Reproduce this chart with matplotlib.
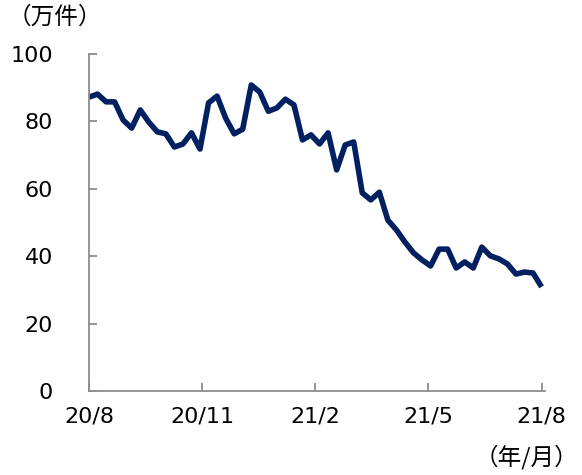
import numpy as np
import matplotlib
matplotlib.use("Agg")
import matplotlib.pyplot as plt

plt.rcParams['font.family'] = ['DejaVu Sans', 'Noto Sans CJK JP']

# weekly values (万件)
values = [87.2, 88.1, 85.8, 85.8, 80.4, 78.0, 83.4, 79.8, 76.9, 76.3,
          72.4, 73.3, 76.6, 71.8, 85.5, 87.5, 81.0, 76.3, 77.7, 90.8,
          88.7, 83.0, 84.0, 86.6, 84.9, 74.5, 76.0, 73.3, 76.6, 65.6,
          73.0, 73.9, 58.8, 56.7, 59.0, 50.7, 47.8, 44.2, 41.0, 38.9,
          37.1, 42.1, 42.1, 36.5, 38.3, 36.5, 42.7, 40.1, 39.2, 37.7,
          34.7, 35.3, 35.0, 30.9]
tick_labels = ['20/8', '20/11', '21/2', '21/5', '21/8']
tick_months = [0, 3, 6, 9, 12]

x = np.arange(len(values))
per_month = (len(values) - 1) / 12

fig = plt.figure(figsize=(5.82, 4.75), dpi=100)
ax = fig.add_axes([89 / 582, 1 - 391 / 475, (545 - 89) / 582, (391 - 54) / 475])

ax.plot(x, values, color='#002060', lw=4, solid_joinstyle='round',
        solid_capstyle='butt')

ax.set_xlim(0, 53.4)
ax.set_ylim(0, 100)
ax.set_yticks(range(0, 101, 20))
ax.set_xticks([m * per_month for m in tick_months])
ax.set_xticklabels(tick_labels)

for s in ['top', 'right']:
    ax.spines[s].set_visible(False)
for s in ['left', 'bottom']:
    ax.spines[s].set_color('#8c8c8c')
    ax.spines[s].set_linewidth(1.3)

ax.tick_params(axis='y', direction='in', length=6, width=1.3, color='#8c8c8c',
               labelsize=16, pad=26)
ax.tick_params(axis='x', direction='in', length=6, width=1.3, color='#8c8c8c',
               labelsize=16, pad=11)

fig.text(8 / 582, 1 - 17 / 475, '（万件）', fontsize=17, va='center', ha='left',
         family=['Noto Sans CJK JP', 'DejaVu Sans'])
fig.text(578 / 582, 1 - 457 / 475, '（年/月）', fontsize=17, va='center', ha='right',
         family=['Noto Sans CJK JP', 'DejaVu Sans'])

fig.savefig('out.png', dpi=100)
